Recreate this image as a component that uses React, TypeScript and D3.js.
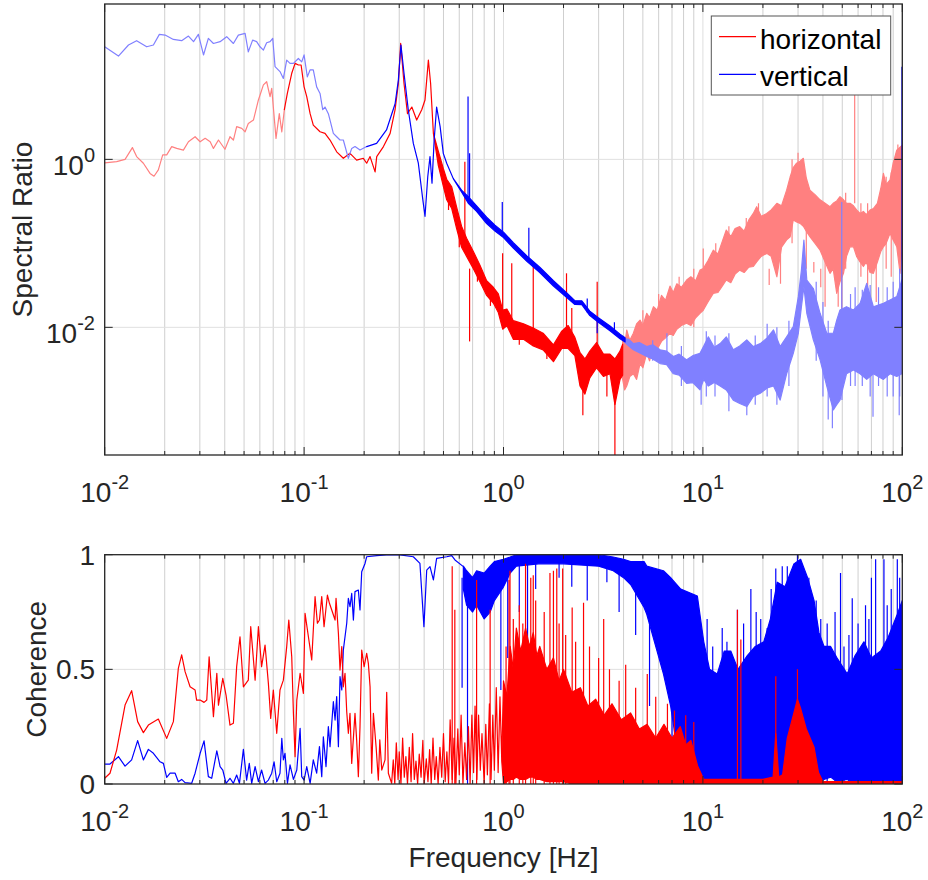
import React from "react";
import * as d3 from "d3";

// [f, value] for a plain trace point, [f, low, high] where the trace is a dense noisy band
type P = number[];

// ---------- spectral ratio (top panel) ----------
const ratioHLow: P[] = [
  [0.01, 0.91], [0.01148, 0.94], [0.01265, 1.0], [0.01377, 1.38], [0.01446, 1.08], [0.01563, 0.9],
  [0.01688, 0.68], [0.01767, 0.63], [0.01858, 0.75], [0.01954, 1.13], [0.02046, 1.13], [0.02168, 1.42],
  [0.02297, 1.35], [0.02481, 1.29], [0.0263, 1.62], [0.0284, 1.86], [0.0301, 1.62], [0.0319, 1.78],
  [0.0338, 1.62], [0.0351, 1.35], [0.0372, 1.7], [0.0401, 1.32], [0.0425, 1.86], [0.0442, 1.7],
  [0.0459, 2.45], [0.0487, 2.34], [0.0506, 2.13], [0.0525, 2.68], [0.0557, 2.94], [0.059, 5.1],
  [0.0625, 7.7], [0.0649, 8.4], [0.0675, 5.6], [0.0688, 7.0], [0.0723, 1.78], [0.0751, 3.5],
  [0.0773, 2.13], [0.0796, 3.9],
];

const ratioH: P[] = [
  [0.0796, 3.9], [0.0824, 6.1], [0.0867, 10.6], [0.0901, 13.9], [0.0936, 13.3], [0.0966, 13.3],
  [0.1, 7.3], [0.1031, 5.6], [0.1072, 3.5], [0.1112, 2.56], [0.1202, 2.13], [0.1273, 2.04],
  [0.1349, 1.7], [0.1457, 1.23], [0.1573, 1.03], [0.1699, 1.18], [0.1835, 0.98], [0.1982, 1.03],
  [0.206, 0.9], [0.2142, 1.08], [0.227, 0.71], [0.2313, 1.08], [0.25, 1.42], [0.27, 2.04],
  [0.286, 3.9], [0.297, 8.0], [0.305, 24], [0.317, 8.0], [0.33, 3.5], [0.347, 4.2], [0.367, 2.94],
  [0.389, 3.9], [0.404, 5.1], [0.42, 15.2], [0.431, 8.0], [0.445, 2.04],
  [0.471, 0.85, 1.25], [0.499, 0.48, 0.78], [0.519, 0.33, 0.58], [0.55, 0.26, 0.47],
  [0.582, 0.15, 0.27], [0.616, 0.09, 0.16], [0.653, 0.07, 0.115], [0.706, 0.05, 0.08],
  [0.762, 0.035, 0.055], [0.823, 0.024, 0.036], [0.889, 0.0195, 0.03], [0.942, 0.015, 0.025],
  [0.991, 0.0095, 0.016], [1.04, 0.0105, 0.0165], [1.12, 0.0072, 0.012], [1.26, 0.0072, 0.011],
  [1.41, 0.006, 0.0098], [1.58, 0.0054, 0.0085], [1.78, 0.0039, 0.0062], [1.96, 0.0056, 0.009],
  [2.11, 0.0056, 0.0105], [2.28, 0.0046, 0.0076], [2.42, 0.002, 0.005], [2.56, 0.0016, 0.0042],
  [2.71, 0.0025, 0.0052], [2.93, 0.0033, 0.0066], [3.17, 0.0026, 0.0048], [3.42, 0.0028, 0.0048],
  [3.62, 0.0012, 0.0042], [3.84, 0.0024, 0.0052], [3.96, 0.0027, 0.0063],
];

const ratioHHigh: P[] = [
  [3.96, 0.0024, 0.0071], [4.05, 0.0018, 0.006], [4.15, 0.002, 0.0093], [4.3, 0.0026, 0.007],
  [4.48, 0.0028, 0.0085], [4.65, 0.0024, 0.011], [4.84, 0.0037, 0.0122], [5.0, 0.0033, 0.0105],
  [5.23, 0.0049, 0.0147], [5.4, 0.004, 0.013], [5.65, 0.0059, 0.0176], [5.9, 0.0055, 0.016],
  [6.2, 0.0068, 0.024], [6.5, 0.0075, 0.021], [6.84, 0.0085, 0.031], [7.1, 0.008, 0.026],
  [7.4, 0.0095, 0.033], [7.8, 0.0105, 0.03], [8.29, 0.0112, 0.0366], [8.7, 0.0105, 0.04],
  [9.2, 0.013, 0.036], [9.67, 0.0147, 0.048], [10.04, 0.016, 0.05], [10.6, 0.02, 0.062],
  [11.27, 0.0254, 0.083], [11.9, 0.026, 0.075], [12.5, 0.031, 0.105], [13.1, 0.0366, 0.144],
  [13.8, 0.034, 0.12], [14.5, 0.043, 0.15], [15.3, 0.048, 0.158], [16.1, 0.045, 0.14],
  [17.0, 0.052, 0.19], [17.9, 0.053, 0.227], [18.6, 0.06, 0.273], [19.6, 0.07, 0.21],
  [20.9, 0.076, 0.227], [22.0, 0.07, 0.25], [23.5, 0.04, 0.3], [24.8, 0.09, 0.28], [26.3, 0.11, 0.43],
  [27.4, 0.12, 0.62], [28.4, 0.19, 0.8], [29.5, 0.18, 0.9], [30.7, 0.173, 0.95], [31.9, 0.16, 1.03],
  [33.0, 0.14, 0.6], [34.4, 0.12, 0.43], [36.5, 0.1, 0.38], [38.7, 0.083, 0.33], [41, 0.06, 0.3],
  [43.4, 0.044, 0.273], [45, 0.05, 0.3], [46.9, 0.0254, 0.32], [48.7, 0.035, 0.36],
  [50.7, 0.044, 0.33], [52.5, 0.07, 0.3], [54.7, 0.091, 0.3], [56.9, 0.091, 0.28], [59, 0.07, 0.25],
  [61.4, 0.06, 0.227], [63.8, 0.053, 0.24], [66, 0.06, 0.22], [68.9, 0.045, 0.249],
  [71.6, 0.044, 0.26], [75, 0.06, 0.3], [78, 0.08, 0.45], [80.4, 0.091, 0.68], [83, 0.1, 0.5],
  [86.8, 0.132, 0.57], [90, 0.11, 0.9], [93.8, 0.091, 1.29], [97.5, 0.044, 1.4], [100, 0.1, 1.48],
];

const ratioVLow: P[] = [
  [0.01, 21.9], [0.01172, 17.0], [0.01316, 23.0], [0.01446, 25.9], [0.01624, 21.9], [0.01755, 23.0],
  [0.0188, 30.8], [0.02009, 30.2], [0.0221, 26.8], [0.02432, 25.9], [0.0263, 29.4], [0.0279, 25.2],
  [0.0295, 30.8], [0.0313, 17.5], [0.0331, 27.6], [0.0351, 24.0], [0.0379, 25.2], [0.0409, 28.9],
  [0.0442, 24.0], [0.0468, 30.2], [0.0506, 31.6], [0.0525, 19.1], [0.0552, 26.3], [0.0578, 25.2],
  [0.0601, 21.9], [0.0625, 20.0], [0.0649, 24.5], [0.0675, 25.2], [0.0696, 27.6], [0.0715, 12.7],
  [0.0757, 11.1], [0.0787, 9.2], [0.0818, 15.2], [0.085, 13.9], [0.0884, 13.9], [0.0936, 15.9],
  [0.0973, 14.5], [0.1, 17.5], [0.1038, 9.6], [0.1071, 11.6], [0.1112, 11.6], [0.1156, 7.3],
  [0.1202, 6.1], [0.124, 3.9], [0.1273, 4.2], [0.1323, 3.5], [0.1349, 2.94], [0.1402, 2.04],
  [0.1457, 1.86], [0.1514, 1.7], [0.1573, 1.7], [0.1667, 1.03], [0.1733, 1.35], [0.18, 1.42],
  [0.1907, 1.29], [0.206, 1.42],
];

const ratioV: P[] = [
  [0.206, 1.42], [0.231, 1.55], [0.259, 2.24], [0.286, 4.6], [0.297, 8.8], [0.306, 23.0],
  [0.317, 10.6], [0.333, 3.9], [0.353, 1.55], [0.374, 0.9], [0.394, 0.33], [0.404, 0.21],
  [0.417, 0.62], [0.428, 1.08], [0.438, 0.52], [0.449, 1.7], [0.462, 4.2], [0.481, 2.45],
  [0.499, 1.18], [0.519, 0.9], [0.56, 0.59], [0.616, 0.41, 0.43], [0.666, 0.3, 0.36],
  [0.733, 0.24, 0.28], [0.823, 0.172, 0.205], [0.906, 0.14, 0.165], [1.0, 0.117, 0.136],
  [1.12, 0.088, 0.102], [1.31, 0.061, 0.071], [1.52, 0.045, 0.052], [1.78, 0.031, 0.036],
  [2.07, 0.0228, 0.0258], [2.28, 0.0187, 0.0208], [2.47, 0.0186, 0.0207], [2.71, 0.0138, 0.0156],
  [2.99, 0.0115, 0.013], [3.42, 0.0091, 0.0104], [3.84, 0.0073, 0.0083], [4.07, 0.0067, 0.0075],
];

const ratioVHigh: P[] = [
  [4.07, 0.0066, 0.0073], [4.25, 0.006, 0.0072], [4.48, 0.0054, 0.0064], [4.8, 0.005, 0.0066],
  [5.23, 0.0045, 0.0059], [5.6, 0.0042, 0.0062], [6.1, 0.0037, 0.0054], [6.58, 0.0036, 0.0052],
  [7.11, 0.0028, 0.0045], [7.6, 0.0027, 0.0048], [8.29, 0.00215, 0.0041], [8.9, 0.0022, 0.0046],
  [9.67, 0.0018, 0.0049], [10.1, 0.0024, 0.006], [10.65, 0.002, 0.0077], [11.4, 0.0022, 0.0058],
  [12.2, 0.002, 0.0064], [13.1, 0.0018, 0.0077], [14.2, 0.00136, 0.0054], [15.3, 0.00124, 0.006],
  [16.6, 0.00114, 0.0071], [17.9, 0.0015, 0.0059], [19.4, 0.00164, 0.0064], [21, 0.0019, 0.0075],
  [22.6, 0.002, 0.0093], [24.4, 0.00136, 0.0059], [26.3, 0.0028, 0.0077], [28.4, 0.0049, 0.0102],
  [30.1, 0.0085, 0.0232], [31.2, 0.0176, 0.048], [32.1, 0.0305, 0.109], [33.2, 0.0147, 0.0366],
  [35.8, 0.0071, 0.029], [38.7, 0.0041, 0.0147], [41.8, 0.002, 0.0085], [45.1, 0.00104, 0.0085],
  [46.9, 0.0012, 0.0122], [48.7, 0.00136, 0.0161], [52.5, 0.0028, 0.0176], [56.9, 0.0031, 0.0161],
  [61.4, 0.0028, 0.0193], [66.3, 0.0024, 0.0334], [71.6, 0.0028, 0.0176], [80.4, 0.0024, 0.0193],
  [86.8, 0.0028, 0.0212], [93.8, 0.0026, 0.0232], [99.5, 0.0028, 0.0366],
];

// isolated spikes: [f, from, to]
const ratioHSpikes: P[] = [
  [0.53, 0.4, 0.25], [0.6, 0.2, 0.09], [0.64, 0.09, 0.94], [0.676, 0.05, 0.0068], [0.74, 0.06, 0.035],
  [0.86, 0.03, 0.018], [0.99, 0.012, 0.076], [1.1, 0.01, 0.058], [1.2, 0.01, 0.0062],
  [1.41, 0.008, 0.053], [1.65, 0.007, 0.0042], [2.07, 0.006, 0.044], [2.2, 0.008, 0.017],
  [2.95, 0.004, 0.035], [3.3, 0.004, 0.0015], [3.62, 0.002, 0.0003], [2.5, 0.002, 0.0009],
];
const ratioHHighSpikes: P[] = [
  [57.7, 0.3, 8.0], [24.5, 0.1, 0.033], [41, 0.1, 0.0176], [47.7, 0.1, 0.0176], [49.7, 0.1, 0.0122],
  [10.04, 0.03, 0.087], [5.0, 0.005, 0.016], [6.0, 0.006, 0.025], [7.6, 0.01, 0.04], [9.0, 0.01, 0.05],
  [11.6, 0.03, 0.1], [13.5, 0.04, 0.16], [16.5, 0.05, 0.2], [19, 0.08, 0.3], [21.5, 0.05, 0.032],
  [28, 0.1, 1.0], [30, 0.2, 1.2], [33, 0.05, 0.6], [36, 0.06, 0.045], [39, 0.05, 0.03],
  [52, 0.05, 0.4], [62, 0.04, 0.3], [67, 0.03, 0.3], [74, 0.02, 0.06], [83, 0.05, 0.62],
  [88, 0.04, 0.7], [95, 0.3, 1.5],
];
const ratioVSpikes: P[] = [
  [0.664, 0.33, 5.6], [0.676, 0.32, 1.18], [0.986, 0.125, 0.31], [1.34, 0.065, 0.153],
  [2.63, 0.015, 0.0221], [2.95, 0.012, 0.0085], [3.6, 0.009, 0.0115], [99.6, 0.01, 12.7],
];
const ratioVHighSpikes: P[] = [
  [49.7, 0.01, 0.31], [6.6, 0.005, 0.0085], [44.6, 0.004, 0.00063], [96.5, 0.005, 0.0009],
  [71.3, 0.005, 0.00086], [16.6, 0.003, 0.0009], [9.8, 0.003, 0.0012], [49.8, 0.004, 0.00136],
  [5.6, 0.004, 0.007], [7.8, 0.002, 0.006], [10.4, 0.0015, 0.009], [11.5, 0.0015, 0.008],
  [13.5, 0.001, 0.0085], [18.3, 0.0012, 0.008], [21, 0.0015, 0.011], [23.5, 0.0012, 0.01],
  [27, 0.002, 0.012], [37, 0.004, 0.035], [40, 0.0015, 0.02], [42.5, 0.0008, 0.012],
  [55, 0.002, 0.025], [58, 0.002, 0.03], [63, 0.002, 0.028], [69, 0.0015, 0.032], [76, 0.002, 0.03],
  [84, 0.0015, 0.03], [90, 0.0015, 0.035], [97, 0.0015, 0.05],
];

// ---------- coherence (bottom panel) ----------
const cohH: P[] = [
  [0.01, 0.025], [0.01063, 0.047], [0.01148, 0.148], [0.01265, 0.344], [0.01365, 0.407],
  [0.01463, 0.272], [0.01563, 0.224], [0.01656, 0.257], [0.01858, 0.283], [0.02046, 0.199],
  [0.0221, 0.272], [0.0234, 0.504], [0.02432, 0.563], [0.0253, 0.49], [0.0268, 0.424],
  [0.0284, 0.41], [0.0289, 0.366], [0.0301, 0.366], [0.0315, 0.356], [0.0325, 0.366],
  [0.0334, 0.555], [0.0351, 0.294], [0.0365, 0.483], [0.0372, 0.344], [0.0391, 0.461],
  [0.0406, 0.388], [0.0425, 0.257], [0.0442, 0.265], [0.0459, 0.512], [0.0477, 0.642],
  [0.0496, 0.424], [0.0525, 0.453], [0.054, 0.686], [0.0568, 0.453], [0.059, 0.686],
  [0.0612, 0.512], [0.0637, 0.606], [0.0662, 0.439], [0.068, 0.286], [0.0701, 0.41],
  [0.0729, 0.221], [0.0757, 0.41], [0.0787, 0.453], [0.0818, 0.599], [0.0838, 0.715],
  [0.0867, 0.555], [0.0884, 0.308], [0.0901, 0.119], [0.0919, 0.366], [0.0955, 0.483],
  [0.0992, 0.395], [0.1011, 0.744], [0.1051, 0.642], [0.1092, 0.541], [0.1135, 0.817],
  [0.1166, 0.701], [0.1194, 0.715], [0.1226, 0.817], [0.1259, 0.686], [0.1309, 0.824],
  [0.134, 0.788], [0.1376, 0.759], [0.143, 0.715], [0.1446, 0.81], [0.1486, 0.657],
  [0.1514, 0.497], [0.1545, 0.599], [0.1573, 0.424], [0.1604, 0.483], [0.1636, 0.315],
  [0.1667, 0.221], [0.1699, 0.308], [0.1733, 0.09], [0.18, 0.308], [0.1835, 0.192],
  [0.1871, 0.032], [0.1907, 0.25], [0.1945, 0.584], [0.2, 0.512], [0.206, 0.57], [0.21, 0.526],
  [0.2142, 0.424], [0.2183, 0.047], [0.2226, 0.308], [0.2296, 0.163], [0.2357, 0.017],
  [0.2397, 0.192], [0.2451, 0.061], [0.2546, 0.105], [0.2596, 0.4], [0.2646, 0.047],
  [0.2748, 0.003], [0.28, 0.105],
];

const cohHNoise: P[] = [
  [0.285, 0.0], [0.29, 0.18], [0.296, 0.02], [0.3, 0.14], [0.306, 0.0], [0.312, 0.2],
  [0.318, 0.03], [0.324, 0.12], [0.33, 0.0], [0.337, 0.16], [0.344, 0.01], [0.35, 0.22],
  [0.357, 0.02], [0.364, 0.1], [0.371, 0.0], [0.378, 0.13], [0.386, 0.03], [0.394, 0.19],
  [0.4, 0.0], [0.41, 0.11], [0.418, 0.01], [0.426, 0.15], [0.434, 0.0], [0.443, 0.2],
  [0.452, 0.02], [0.46, 0.12], [0.47, 0.0], [0.48, 0.16], [0.49, 0.03], [0.5, 0.22],
  [0.51, 0.01], [0.52, 0.14], [0.53, 0.0], [0.54, 0.28], [0.553, 0.02], [0.565, 0.2],
  [0.577, 0.0], [0.59, 0.24], [0.6, 0.04], [0.613, 0.3], [0.626, 0.0], [0.64, 0.18],
  [0.653, 0.02], [0.667, 0.25], [0.68, 0.0], [0.694, 0.3], [0.708, 0.05], [0.72, 0.34],
  [0.735, 0.02], [0.75, 0.3], [0.765, 0.06], [0.78, 0.22], [0.8, 0.0], [0.815, 0.26],
  [0.83, 0.04], [0.85, 0.35], [0.866, 0.02], [0.884, 0.3], [0.9, 0.06], [0.92, 0.42],
  [0.94, 0.05], [0.96, 0.38], [0.98, 0.1],
];

const cohHBand: P[] = [
  [1.0, 0.0, 0.45], [1.04, 0.01, 0.38], [1.08, 0.02, 0.6], [1.12, 0.02, 0.5], [1.16, 0.03, 0.68],
  [1.22, 0.02, 0.58], [1.29, 0.02, 0.68], [1.35, 0.03, 0.6], [1.41, 0.03, 0.66], [1.47, 0.02, 0.56],
  [1.52, 0.02, 0.6], [1.65, 0.01, 0.5], [1.78, 0.01, 0.55], [1.9, 0.01, 0.45], [2.0, 0.01, 0.5],
  [2.2, 0.0, 0.4], [2.43, 0.0, 0.42], [2.65, 0.0, 0.34], [2.9, 0.0, 0.37], [3.2, 0.0, 0.3],
  [3.5, 0.0, 0.35], [3.9, 0.0, 0.28], [4.34, 0.0, 0.31], [4.8, 0.0, 0.24], [5.25, 0.0, 0.26],
  [5.8, 0.0, 0.2], [6.38, 0.0, 0.26], [7.0, 0.0, 0.2], [7.7, 0.0, 0.25], [8.2, 0.0, 0.17],
  [8.7, 0.0, 0.19], [9.4, 0.0, 0.08], [10.1, 0.0, 0.02], [14, 0.0, 0.02], [20, 0.0, 0.02],
  [22.5, 0.0, 0.03], [23.2, 0.0, 0.22], [24, 0.0, 0.03], [25.1, 0.0, 0.04], [26.5, 0.0, 0.2],
  [28.6, 0.0, 0.31], [29.8, 0.0, 0.37], [30.9, 0.0, 0.33], [33, 0.0, 0.24], [36.1, 0.0, 0.16],
  [38, 0.0, 0.05], [40, 0.0, 0.01], [100, 0.0, 0.01],
];

const cohHSpikes: P[] = [
  [0.553, 0, 0.95], [0.57, 0, 0.76], [0.733, 0, 0.89], [0.857, 0, 0.76], [1.066, 0, 0.89],
  [1.078, 0, 0.93], [1.29, 0, 0.96], [1.37, 0, 0.9], [1.41, 0, 0.91], [1.71, 0, 0.92],
  [1.78, 0, 0.93], [1.85, 0, 0.94], [1.98, 0, 0.94], [2.21, 0, 0.77], [2.52, 0, 0.79],
  [3.18, 0, 0.72], [5.26, 0, 0.48], [6.64, 0, 0.35], [14.9, 0, 0.76], [15.5, 0, 0.63],
  [23.2, 0, 0.47], [29.8, 0, 0.5], [1.03, 0, 0.6], [1.12, 0, 0.72], [1.2, 0, 0.78], [1.25, 0, 0.7],
  [1.45, 0, 0.8], [1.6, 0, 0.75], [1.9, 0, 0.7], [2.05, 0, 0.65], [2.3, 0, 0.62], [2.7, 0, 0.6],
  [3.0, 0, 0.55], [3.4, 0, 0.5], [3.8, 0, 0.45], [4.1, 0, 0.52], [4.6, 0, 0.42], [5.8, 0, 0.38],
  [7.2, 0, 0.32], [8.2, 0, 0.3], [9.0, 0, 0.27],
];

const cohV: P[] = [
  [0.01, 0.087], [0.01063, 0.087], [0.01172, 0.119], [0.01265, 0.078], [0.01365, 0.105],
  [0.01463, 0.189], [0.01563, 0.105], [0.01656, 0.151], [0.01755, 0.134], [0.01895, 0.097],
  [0.01969, 0.09], [0.02046, 0.029], [0.02128, 0.047], [0.02255, 0.047], [0.0234, 0.01],
  [0.02432, 0.02], [0.0253, 0.006], [0.0273, 0.003], [0.0284, 0.047], [0.0301, 0.134],
  [0.0315, 0.188], [0.0331, 0.032], [0.0344, 0.025], [0.0365, 0.145], [0.0379, 0.076],
  [0.0391, 0.061], [0.0406, 0.003], [0.0425, 0.025], [0.0442, 0.003], [0.0459, 0.039],
  [0.0474, 0.003], [0.0496, 0.151], [0.0515, 0.017], [0.0531, 0.09], [0.0546, 0.003],
  [0.0568, 0.076], [0.059, 0.01], [0.0612, 0.061], [0.0637, 0.003], [0.0662, 0.017],
  [0.0688, 0.047], [0.0707, 0.097], [0.0729, 0.01], [0.0757, 0.047], [0.0773, 0.199],
  [0.0787, 0.105], [0.0802, 0.134], [0.0825, 0.003], [0.085, 0.083], [0.0884, 0.02],
  [0.0919, 0.061], [0.0955, 0.243], [0.0973, 0.032], [0.1, 0.017], [0.1031, 0.076],
  [0.1072, 0.003], [0.1112, 0.105], [0.1156, 0.047], [0.1194, 0.163], [0.1226, 0.032],
  [0.1249, 0.206], [0.1288, 0.076], [0.1323, 0.25], [0.1349, 0.163], [0.1402, 0.359],
  [0.143, 0.279], [0.1457, 0.381], [0.1486, 0.163], [0.1514, 0.468], [0.1545, 0.41],
  [0.1573, 0.584], [0.1636, 0.701], [0.1667, 0.81], [0.1699, 0.773], [0.1733, 0.831],
  [0.1767, 0.715], [0.18, 0.839], [0.1871, 0.846], [0.1907, 0.759], [0.1945, 0.926],
  [0.2021, 0.962], [0.206, 0.991], [0.2313, 0.996], [0.259, 0.999], [0.303, 0.999],
  [0.353, 0.991], [0.381, 0.962], [0.399, 0.686], [0.412, 0.933], [0.428, 0.948],
  [0.445, 0.89], [0.462, 0.984], [0.519, 0.991], [0.55, 0.996], [0.571, 0.977], [0.629, 0.948],
];

const cohVBand: P[] = [
  [0.629, 0.85, 0.95], [0.653, 0.78, 0.93], [0.7, 0.75, 0.9], [0.733, 0.78, 0.93],
  [0.8, 0.72, 0.92], [0.857, 0.75, 0.95], [0.9, 0.8, 0.97], [1.0, 0.86, 0.98], [1.08, 0.92, 0.99],
  [1.16, 0.95, 1.0], [1.5, 0.96, 1.0], [2.0, 0.96, 1.0], [3.0, 0.95, 1.0], [3.55, 0.93, 0.99],
  [4.0, 0.9, 0.98], [4.34, 0.87, 0.97], [5.07, 0.77, 0.97], [5.23, 0.74, 0.95], [6.34, 0.48, 0.93],
  [6.89, 0.34, 0.9], [7.74, 0.05, 0.85], [9.38, 0.02, 0.82], [10.1, 0.0, 0.62], [10.8, 0.0, 0.5],
  [11.8, 0.0, 0.48], [12.8, 0.0, 0.58], [13.8, 0.0, 0.58], [15, 0.0, 0.5], [16.7, 0.0, 0.56],
  [18.3, 0.0, 0.6], [20.2, 0.02, 0.62], [21.8, 0.0, 0.72], [23.6, 0.0, 0.88], [25.8, 0.0, 0.86],
  [28.6, 0.0, 0.96], [30.9, 0.05, 0.98], [33.5, 0.0, 0.9], [36.1, 0.0, 0.8], [38.2, 0.0, 0.66],
  [40.5, 0.02, 0.6], [43.7, 0.03, 0.6], [47, 0.01, 0.55], [52.9, 0.02, 0.48], [58, 0.0, 0.56],
  [64.2, 0.0, 0.62], [70, 0.0, 0.55], [77.9, 0.0, 0.58], [85, 0.0, 0.64], [94.4, 0.0, 0.74],
  [100, 0.0, 0.8],
];

const cohVSpikes: P[] = [
  [0.66, 0.9, 0.0], [0.62, 0.9, 0.42], [0.97, 0.9, 0.41], [1.32, 0.98, 0.06], [2.63, 0.98, 0.8],
  [5.4, 0.8, 0.34], [7.0, 0.5, 0.12], [1.05, 0.98, 0.55], [1.2, 0.98, 0.75], [1.45, 0.98, 0.85],
  [1.9, 0.98, 0.9], [2.2, 0.98, 0.86], [3.3, 0.98, 0.88], [3.8, 0.95, 0.75], [4.6, 0.9, 0.65],
  [14.9, 0, 0.76], [17.4, 0, 0.85], [23.2, 0, 0.94], [29.8, 0, 1.0], [49.0, 0, 0.92],
  [56.1, 0, 0.81], [65.4, 0, 0.78], [73.5, 0, 0.98], [80.9, 0, 0.98], [94.4, 0, 0.98],
  [10.5, 0, 0.72], [11.2, 0, 0.6], [12.5, 0, 0.68], [13.2, 0, 0.62], [16, 0, 0.7], [18.5, 0, 0.75],
  [19.5, 0, 0.72], [21, 0, 0.68], [22, 0, 0.85], [25, 0, 0.95], [26.5, 0, 0.95], [32, 0, 0.92],
  [34, 0, 0.9], [37, 0, 0.8], [39, 0, 0.72], [42, 0, 0.7], [46, 0, 0.75], [51, 0, 0.6],
  [54, 0, 0.65], [60, 0, 0.7], [68, 0, 0.72], [70, 0, 0.9], [84, 0, 0.78], [88, 0, 0.85],
  [97, 0, 0.9],
];

// ---------- ticks, labels, legend ----------
const xExponents = [-2, -1, 0, 1, 2];
const ratioTickValues = [1, 0.01];
const ratioTickExponents = ["0", "-2"];
const cohTickValues = [0, 0.5, 1];
const cohTickLabels = ["0", "0.5", "1"];
const legendNames = ["horizontal", "vertical"];

const RED = "#ff0000";
const RED_PALE = "#ff8080";
const BLUE = "#0000ff";
const BLUE_PALE = "#8080ff";
const AXIS = "#262626";
const FONT = "'Liberation Sans', Arial, Helvetica, sans-serif";

const L = 104.7;
const R = 902.3;
const T1 = 4;
const B1 = 455;
const T2 = 554.7;
const B2 = 784;

const App = () => {
  const x = d3.scaleLog().domain([0.01, 100]).range([L, R]);
  const yR = d3.scaleLog().domain([Math.pow(10, -3.52), Math.pow(10, 1.85)]).range([B1, T1]);
  const yC = d3.scaleLinear().domain([0, 1]).range([B2, T2]);
  const xTicks = x.ticks();
  const isMajor = (v: number) => Math.abs(Math.log10(v) - Math.round(Math.log10(v))) < 1e-6;

  const band = (y: (v: number) => number) =>
    d3
      .area<P>()
      .x((d) => x(d[0]))
      .y0((d) => y(d[1]))
      .y1((d) => y(d.length > 2 ? d[2] : d[1]));

  const trace = (data: P[], y: (v: number) => number, color: string, w = 1.2) => (
    <path
      d={band(y)(data) || ""}
      fill={color}
      stroke={color}
      strokeWidth={w}
      strokeLinejoin="round"
    />
  );

  const spikes = (data: P[], y: (v: number) => number, color: string) =>
    data.map((d, i) => (
      <line key={i} x1={x(d[0])} x2={x(d[0])} y1={y(d[1])} y2={y(d[2])} stroke={color} strokeWidth={1.2} />
    ));

  const frame = (top: number, bottom: number, yTicks: number[], y: (v: number) => number) => (
    <g>
      {xTicks.map((t, i) => {
        const len = isMajor(t) ? 8 : 4;
        return (
          <g key={i}>
            <line x1={x(t)} x2={x(t)} y1={bottom} y2={bottom - len} stroke={AXIS} strokeWidth={1} />
            <line x1={x(t)} x2={x(t)} y1={top} y2={top + len} stroke={AXIS} strokeWidth={1} />
          </g>
        );
      })}
      {yTicks.map((t, i) => (
        <g key={i}>
          <line x1={L} x2={L + 8} y1={y(t)} y2={y(t)} stroke={AXIS} strokeWidth={1} />
          <line x1={R} x2={R - 8} y1={y(t)} y2={y(t)} stroke={AXIS} strokeWidth={1} />
        </g>
      ))}
      <rect x={L} y={top} width={R - L} height={bottom - top} fill="none" stroke={AXIS} strokeWidth={1.3} />
      {xExponents.map((e, i) => (
        <text key={i} x={x(Math.pow(10, e))} y={bottom + 46.7} textAnchor="middle" fontSize={28} fill={AXIS}>
          10
          <tspan dy={-13} fontSize={20}>
            {String(e)}
          </tspan>
        </text>
      ))}
    </g>
  );

  const grid = (top: number, bottom: number, yTicks: number[], y: (v: number) => number) => (
    <g>
      {xTicks.map((t, i) => (
        <line
          key={i}
          x1={x(t)}
          x2={x(t)}
          y1={top}
          y2={bottom}
          stroke={isMajor(t) ? "#dedede" : "#cfcfcf"}
          strokeWidth={1}
        />
      ))}
      {yTicks.map((t, i) => (
        <line key={i} x1={L} x2={R} y1={y(t)} y2={y(t)} stroke="#e0e0e0" strokeWidth={1} />
      ))}
    </g>
  );

  return (
    <svg
      width={928}
      height={880}
      style={{ position: "absolute", left: 0, top: 0, background: "#fff" }}
      fontFamily={FONT}
    >
      <defs>
        <clipPath id="clipRatio">
          <rect x={L} y={T1} width={R - L} height={B1 - T1} />
        </clipPath>
        <clipPath id="clipCoh">
          <rect x={L} y={T2} width={R - L} height={B2 - T2} />
        </clipPath>
      </defs>

      {/* spectral ratio */}
      {grid(T1, B1, ratioTickValues, yR)}
      <g clipPath="url(#clipRatio)">
        {trace(ratioHLow, yR, RED_PALE)}
        {trace(ratioHHigh, yR, RED_PALE)}
        {spikes(ratioHHighSpikes, yR, RED_PALE)}
        {trace(ratioH, yR, RED)}
        {spikes(ratioHSpikes, yR, RED)}
        {trace(ratioVLow, yR, BLUE_PALE)}
        {trace(ratioVHigh, yR, BLUE_PALE)}
        {spikes(ratioVHighSpikes, yR, BLUE_PALE)}
        {trace(ratioV, yR, BLUE)}
        {spikes(ratioVSpikes, yR, BLUE)}
      </g>
      {frame(T1, B1, ratioTickValues, yR)}
      {ratioTickValues.map((t, i) => (
        <text key={i} x={95} y={yR(t) + 16} textAnchor="end" fontSize={28} fill={AXIS}>
          10
          <tspan dy={-13} fontSize={20}>
            {ratioTickExponents[i]}
          </tspan>
        </text>
      ))}
      <text
        transform={`translate(32,${(T1 + B1) / 2}) rotate(-90)`}
        textAnchor="middle"
        fontSize={28}
        fill={AXIS}
      >
        Spectral Ratio
      </text>

      {/* legend */}
      <g>
        <rect x={711.3} y={16} width={179.4} height={79} fill="#fff" stroke="#555" strokeWidth={1} />
        {legendNames.map((name, i) => (
          <g key={name}>
            <line
              x1={719}
              x2={756}
              y1={36.7 + i * 37.6}
              y2={36.7 + i * 37.6}
              stroke={i === 0 ? RED : BLUE}
              strokeWidth={1.3}
            />
            <text x={760} y={49.3 + i * 36.7} fontSize={28} fill="#000">
              {name}
            </text>
          </g>
        ))}
      </g>

      {/* coherence */}
      {grid(T2, B2, [0.5], yC)}
      <g clipPath="url(#clipCoh)">
        {trace(cohV.concat(cohVBand), yC, BLUE)}
        {spikes(cohVSpikes, yC, BLUE)}
        {trace(cohH.concat(cohHNoise, cohHBand), yC, RED)}
        {spikes(cohHSpikes, yC, RED)}
      </g>
      {frame(T2, B2, cohTickValues, yC)}
      {cohTickValues.map((t, i) => (
        <text key={i} x={95} y={yC(t) + 10} textAnchor="end" fontSize={28} fill={AXIS}>
          {cohTickLabels[i]}
        </text>
      ))}
      <text
        transform={`translate(46,${(T2 + B2) / 2}) rotate(-90)`}
        textAnchor="middle"
        fontSize={28}
        fill={AXIS}
      >
        Coherence
      </text>
      <text x={(L + R) / 2} y={867} textAnchor="middle" fontSize={28} fill={AXIS}>
        Frequency [Hz]
      </text>
    </svg>
  );
};

export default App;
